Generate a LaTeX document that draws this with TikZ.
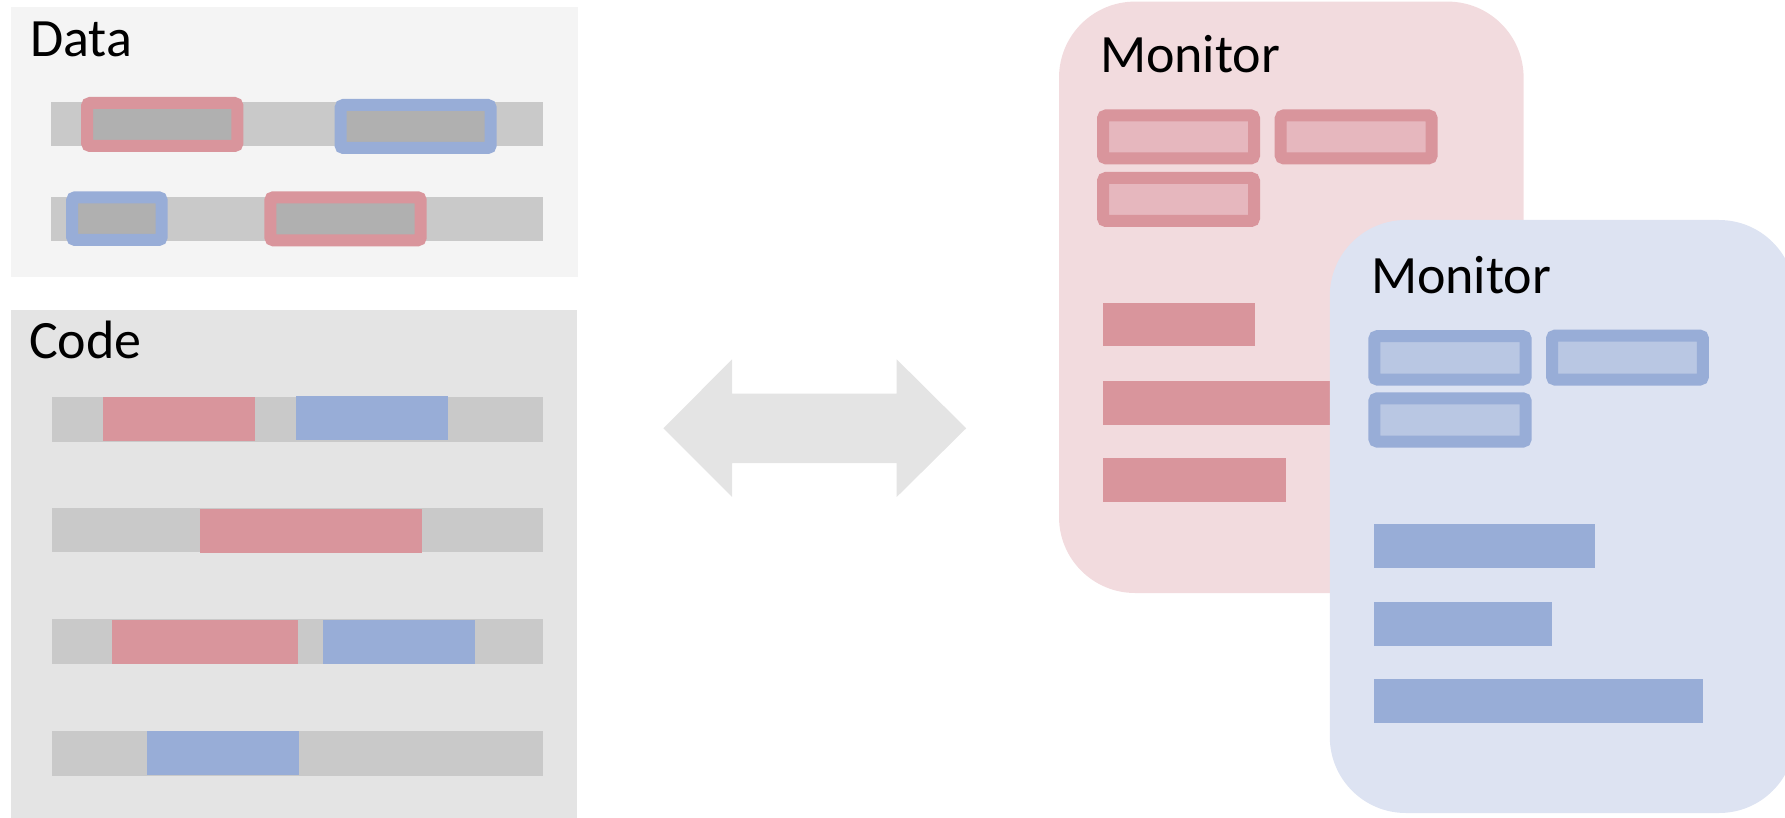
\documentclass[tikz,border=0pt]{standalone}
\usepackage{fontspec}
\setmainfont{Carlito}
\definecolor{pinkS}{HTML}{D9959C}
\definecolor{pinkL}{HTML}{E6B7BE}
\definecolor{pinkBG}{HTML}{F2DBDE}
\definecolor{blueS}{HTML}{98ADD7}
\definecolor{blueL}{HTML}{B9C7E3}
\definecolor{blueBG}{HTML}{DDE3F2}
\definecolor{barG}{HTML}{C9C9C9}
\definecolor{innerG}{HTML}{B0B0B0}
\definecolor{dataBG}{HTML}{F4F4F4}
\definecolor{codeBG}{HTML}{E4E4E4}
\tikzset{
  lbl/.style={anchor=base west,inner sep=0pt,outer sep=0pt,font=\fontsize{54}{60}\selectfont},
  bar/.style={fill=barG},
  pinkbar/.style={fill=pinkS},
  bluebar/.style={fill=blueS},
  pinkframe/.style={draw=pinkS,line width=12pt,rounded corners=3pt},
  blueframe/.style={draw=blueS,line width=12pt,rounded corners=3pt},
  bigbox/.style={rounded corners=76pt}
}
\begin{document}
\begin{tikzpicture}[x=1pt,y=-1pt]
\useasboundingbox (0,0) rectangle (1785,818);
\clip (0,0) rectangle (1785,818);
% Data panel
\fill[dataBG] (11,7) rectangle (578,277);
\node[lbl] (datalbl) at (30,57) {Data};
\fill[bar] (51,102) rectangle (543,146);
\fill[bar] (51,197) rectangle (543,241);
\filldraw[pinkframe,fill=innerG] (87.1,103) rectangle (237.4,146);
\filldraw[blueframe,fill=innerG] (340.5,105) rectangle (490.7,148);
\filldraw[blueframe,fill=innerG] (72.2,197.3) rectangle (161.6,240);
\filldraw[pinkframe,fill=innerG] (270.4,197.3) rectangle (420.7,240.3);
% Code panel
\fill[codeBG] (11,310) rectangle (577,818);
\node[lbl] (codelbl) at (29,358) {Code};
\fill[bar] (52.3,397) rectangle (543.4,441.7);
\fill[pinkbar] (103.3,397) rectangle (255.1,440.7);
\fill[bluebar] (296,396) rectangle (447.7,439.7);
\fill[bar] (52.3,508) rectangle (543.4,551.7);
\fill[pinkbar] (200.3,509) rectangle (421.6,552.7);
\fill[bar] (52.3,619) rectangle (543.4,663.7);
\fill[pinkbar] (112.2,620) rectangle (297.8,663.7);
\fill[bluebar] (322.7,620) rectangle (475.1,663.7);
\fill[bar] (52.3,731) rectangle (543.4,775.7);
\fill[bluebar] (146.7,731) rectangle (299.1,774.7);
% double arrow
\fill[codeBG] (663.3,428.3) -- (732.1,359.3) -- (732.1,393.7) -- (896.7,393.7) -- (896.7,359.3) -- (966.2,428.3) -- (896.7,497) -- (896.7,463) -- (732.1,463) -- (732.1,497) -- cycle;
% pink monitor
\fill[pinkBG,bigbox] (1059,1.6) rectangle (1523.6,593);
\node[lbl] (mon1) at (1100,73) {Monitor};
\filldraw[pinkframe,fill=pinkL] (1103,115.5) rectangle (1254,158.3);
\filldraw[pinkframe,fill=pinkL] (1280.7,115.5) rectangle (1431.6,158.3);
\filldraw[pinkframe,fill=pinkL] (1103,178) rectangle (1254,221);
\fill[pinkbar] (1103.2,303) rectangle (1255.2,346.4);
\fill[pinkbar] (1103.2,381.3) rectangle (1340,425.1);
\fill[pinkbar] (1103.2,458) rectangle (1286,501.8);
% blue monitor
\fill[blueBG,bigbox] (1329.8,220) rectangle (1795,813);
\node[lbl] (mon2) at (1371,294) {Monitor};
\filldraw[blueframe,fill=blueL] (1374.3,336.2) rectangle (1525.7,379.5);
\filldraw[blueframe,fill=blueL] (1552,335.7) rectangle (1702.9,379.5);
\filldraw[blueframe,fill=blueL] (1374.3,398.3) rectangle (1525.7,441.6);
\fill[bluebar] (1374,523.7) rectangle (1594.9,567.6);
\fill[bluebar] (1374,602) rectangle (1552.1,645.8);
\fill[bluebar] (1374,679.2) rectangle (1702.7,723);
\end{tikzpicture}
\end{document}
